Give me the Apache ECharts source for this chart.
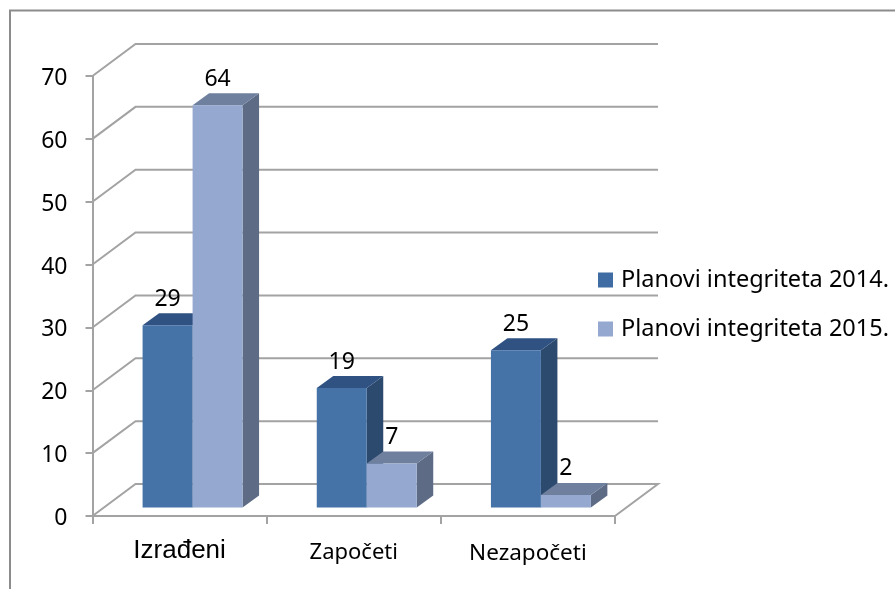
<!DOCTYPE html>
<html>
<head>
<meta charset="utf-8">
<title>Planovi integriteta</title>
<style>
  html, body { margin: 0; padding: 0; background: #fff; }
  #chart { width: 895px; height: 589px; }
</style>
<script src="https://cdn.jsdelivr.net/npm/echarts@6/dist/echarts.min.js"></script>
</head>
<body>
<div id="chart"></div>
<script>
var categories = ['Izrađeni', 'Započeti', 'Nezapočeti'];
var values2014 = [29, 19, 25];
var values2015 = [64, 7, 2];
var yTicks = [0, 10, 20, 30, 40, 50, 60, 70];

var FONT = '"Noto Sans", sans-serif';
var GREY = '#a3a3a3';
// pomak zadnjeg zida, pomak stupca od osi i dubina stupca (px)
var WALL = [43, -32];
var BAR_SHIFT = [13, -8.5];
var DEPTH = [16.5, -12];
var BAR_RATIO = 0.287;

function pts(list) {
  return { points: list };
}

function renderWall(params, api) {
  var v = api.value(0);
  var left = api.coord([0, v]);
  var cat = api.size([1, 0])[0];
  var x0 = left[0] - cat / 2;
  var x1 = x0 + cat * categories.length;
  var y = left[1];
  var line = [[x0, y], [x0 + WALL[0], y + WALL[1]], [x1 + WALL[0], y + WALL[1]]];
  if (v === 0) {
    line.push([x1, y]);
  }
  return {
    type: 'polyline',
    shape: pts(line),
    style: { stroke: GREY, lineWidth: 2, fill: null }
  };
}

function makeBarRenderer(barIndex, front, top, side) {
  return function(params, api) {
    var idx = api.value(0);
    var val = api.value(1);
    var cat = api.size([1, 0])[0];
    var w = cat * BAR_RATIO;
    var cx = api.coord([idx, 0])[0];
    var x0 = cx + BAR_SHIFT[0] - w + barIndex * w;
    var x1 = x0 + w;
    var yb = api.coord([idx, 0])[1] + BAR_SHIFT[1];
    var yt = api.coord([idx, val])[1] + BAR_SHIFT[1];
    var dx = DEPTH[0], dy = DEPTH[1];
    return {
      type: 'group',
      children: [
        { type: 'polygon', shape: pts([[x1, yb], [x1 + dx, yb + dy], [x1 + dx, yt + dy], [x1, yt]]), style: { fill: side } },
        { type: 'polygon', shape: pts([[x0, yt], [x1, yt], [x1 + dx, yt + dy], [x0 + dx, yt + dy]]), style: { fill: top } },
        { type: 'rect', shape: { x: x0, y: yt, width: w, height: yb - yt }, style: { fill: front } },
        { type: 'text', style: { text: String(val), x: (x0 + x1) / 2, y: yt - 26, textAlign: 'center', textVerticalAlign: 'middle', font: '23px ' + FONT, fill: '#000' } }
      ]
    };
  };
}

function pairs(values) {
  return values.map(function(v, i) { return [i, v]; });
}

var chart = echarts.init(document.getElementById('chart'));
chart.setOption({
  animation: false,
  backgroundColor: '#fff',
  grid: { left: 92.5, right: 280, top: 76, bottom: 73 },
  graphic: [{
    type: 'polyline',
    shape: { points: [[10, 589], [10, 10.5], [895, 10.5]] },
    style: { stroke: '#8c8c8c', lineWidth: 2, fill: null }
  }],
  legend: {
    data: ['Planovi integriteta 2014.', 'Planovi integriteta 2015.'],
    orient: 'vertical',
    left: 593,
    top: 263,
    itemWidth: 15,
    itemHeight: 15,
    itemGap: 25,
    icon: 'rect',
    textStyle: { fontFamily: FONT, fontSize: 23.5, color: '#000', padding: [0, 0, 0, 3] }
  },
  xAxis: {
    type: 'category',
    data: [
      { value: categories[0], textStyle: { fontFamily: '"Liberation Sans", sans-serif', fontSize: 26, padding: [8, 0, 0, 0] } },
      { value: categories[1], textStyle: { fontSize: 22, padding: [12, 0, 0, 0] } },
      { value: categories[2], textStyle: { fontSize: 22.5, padding: [12, 0, 0, 0] } }
    ],
    axisLine: { lineStyle: { color: GREY, width: 2 } },
    axisTick: { show: true, length: 8, lineStyle: { color: GREY, width: 2 } },
    axisLabel: { color: '#000', fontFamily: FONT, margin: 14 },
    splitLine: { show: false }
  },
  yAxis: {
    type: 'value',
    min: 0,
    max: 70,
    interval: 10,
    axisLine: { show: true, lineStyle: { color: GREY, width: 2 } },
    axisTick: { show: true, length: 7, lineStyle: { color: GREY, width: 2 } },
    axisLabel: { color: '#000', fontFamily: FONT, fontSize: 23, margin: 25, verticalAlign: 'top', padding: [-9, 0, 0, 0] },
    splitLine: { show: false }
  },
  series: [
    {
      name: 'zid',
      type: 'custom',
      coordinateSystem: 'cartesian2d',
      renderItem: renderWall,
      data: yTicks.map(function(v) { return [v]; }),
      encode: { y: 0 },
      silent: true,
      z: 1
    },
    {
      name: 'Planovi integriteta 2014.',
      type: 'custom',
      coordinateSystem: 'cartesian2d',
      renderItem: makeBarRenderer(0, '#4572a7', '#2f5283', '#2c4a6e'),
      data: pairs(values2014),
      encode: { x: 0, y: 1 },
      itemStyle: { color: '#3f6ca3' },
      z: 3
    },
    {
      name: 'Planovi integriteta 2015.',
      type: 'custom',
      coordinateSystem: 'cartesian2d',
      renderItem: makeBarRenderer(1, '#94a8d0', '#6f7f9e', '#5d6b85'),
      data: pairs(values2015),
      encode: { x: 0, y: 1 },
      itemStyle: { color: '#94a8d0' },
      z: 4
    }
  ]
});
</script>
</body>
</html>
